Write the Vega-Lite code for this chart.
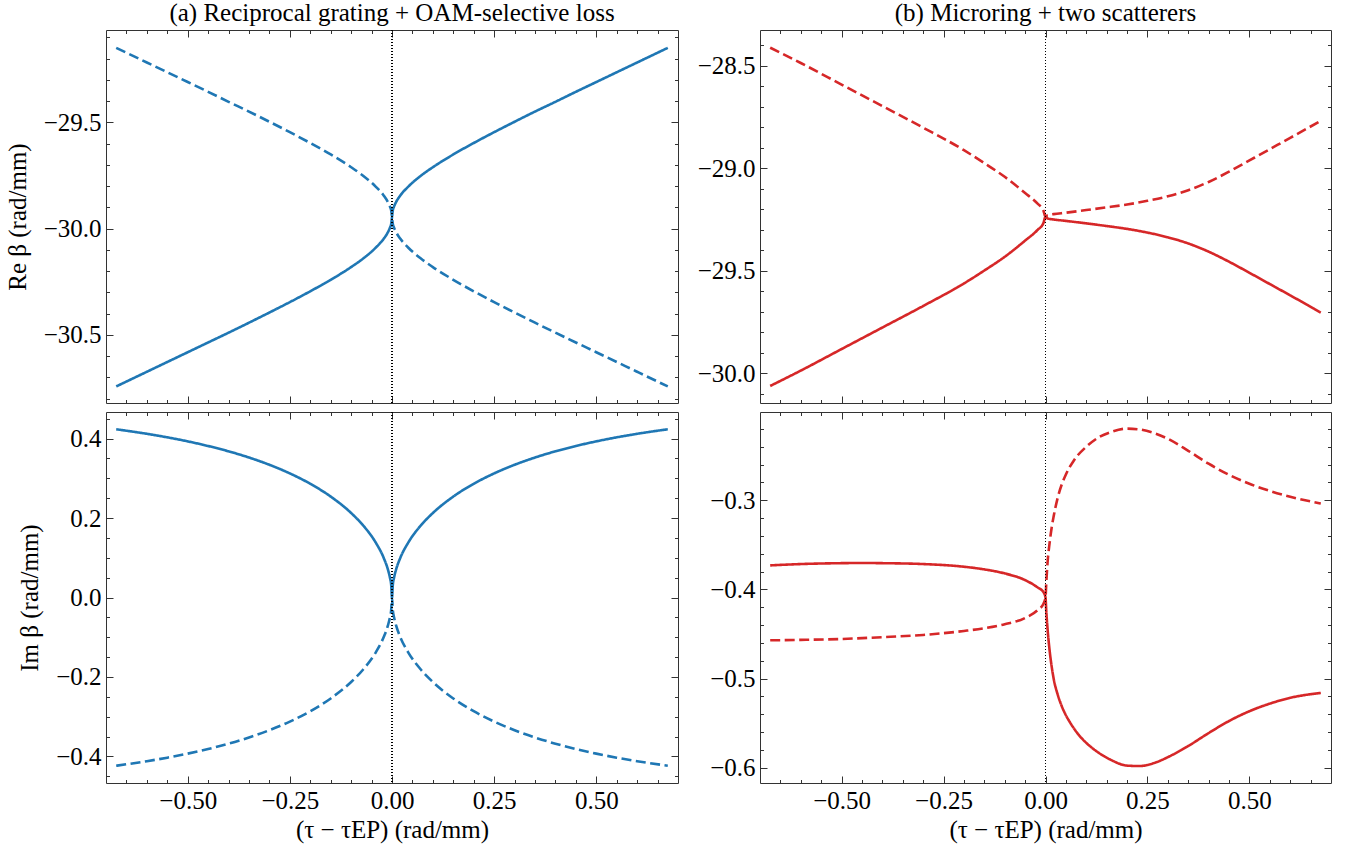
{
"$schema":"https://vega.github.io/schema/vega-lite/v6.json",
"padding":{"left":4,"top":0,"right":5,"bottom":3},
"config":{"font":"Liberation Serif","axis":{"labelFontSize":25,"titleFontSize":25,"labelColor":"#000","titleColor":"#000","titleFontWeight":"normal","labelPadding":5,"titlePadding":13,"tickColor":"#333","grid":false},"title":{"fontSize":25,"fontWeight":"normal","color":"#000","offset":4},"view":{"stroke":"#333","strokeWidth":1}},
"datasets":{
"a":[
{"x":-0.675,"re":-30.743,"im":0.4235,"b":"s"},{"x":-0.6,"re":-30.674,"im":0.4121,"b":"s"},{"x":-0.55,"re":-30.628,"im":0.4032,"b":"s"},{"x":-0.5,"re":-30.582,"im":0.3931,"b":"s"},{"x":-0.45,"re":-30.536,"im":0.3814,"b":"s"},{"x":-0.4,"re":-30.49,"im":0.368,"b":"s"},{"x":-0.35,"re":-30.443,"im":0.3524,"b":"s"},{"x":-0.3,"re":-30.395,"im":0.3341,"b":"s"},{"x":-0.25,"re":-30.346,"im":0.3124,"b":"s"},{"x":-0.2,"re":-30.295,"im":0.2863,"b":"s"},{"x":-0.15,"re":-30.241,"im":0.2541,"b":"s"},{"x":-0.1,"re":-30.181,"im":0.2127,"b":"s"},{"x":-0.07,"re":-30.14,"im":0.1807,"b":"s"},{"x":-0.04,"re":-30.09,"im":0.1386,"b":"s"},{"x":-0.02,"re":-30.047,"im":0.099,"b":"s"},{"x":-0.01,"re":-30.017,"im":0.0704,"b":"s"},{"x":-0.005,"re":-29.996,"im":0.0499,"b":"s"},{"x":-0.002,"re":-29.978,"im":0.0316,"b":"s"},{"x":0,"re":-29.946,"im":0,"b":"s"},
{"x":0.002,"re":-29.914,"im":0.0316,"b":"s"},{"x":0.005,"re":-29.896,"im":0.0499,"b":"s"},{"x":0.01,"re":-29.875,"im":0.0704,"b":"s"},{"x":0.02,"re":-29.845,"im":0.099,"b":"s"},{"x":0.04,"re":-29.802,"im":0.1386,"b":"s"},{"x":0.07,"re":-29.752,"im":0.1807,"b":"s"},{"x":0.1,"re":-29.711,"im":0.2127,"b":"s"},{"x":0.15,"re":-29.651,"im":0.2541,"b":"s"},{"x":0.2,"re":-29.597,"im":0.2863,"b":"s"},{"x":0.25,"re":-29.546,"im":0.3124,"b":"s"},{"x":0.3,"re":-29.497,"im":0.3341,"b":"s"},{"x":0.35,"re":-29.449,"im":0.3524,"b":"s"},{"x":0.4,"re":-29.403,"im":0.368,"b":"s"},{"x":0.45,"re":-29.356,"im":0.3814,"b":"s"},{"x":0.5,"re":-29.31,"im":0.3931,"b":"s"},{"x":0.55,"re":-29.264,"im":0.4032,"b":"s"},{"x":0.6,"re":-29.218,"im":0.4121,"b":"s"},{"x":0.675,"re":-29.149,"im":0.4235,"b":"s"},
{"x":-0.675,"re":-29.149,"im":-0.4235,"b":"d"},{"x":-0.6,"re":-29.218,"im":-0.4121,"b":"d"},{"x":-0.55,"re":-29.264,"im":-0.4032,"b":"d"},{"x":-0.5,"re":-29.31,"im":-0.3931,"b":"d"},{"x":-0.45,"re":-29.356,"im":-0.3814,"b":"d"},{"x":-0.4,"re":-29.403,"im":-0.368,"b":"d"},{"x":-0.35,"re":-29.449,"im":-0.3524,"b":"d"},{"x":-0.3,"re":-29.497,"im":-0.3341,"b":"d"},{"x":-0.25,"re":-29.546,"im":-0.3124,"b":"d"},{"x":-0.2,"re":-29.597,"im":-0.2863,"b":"d"},{"x":-0.15,"re":-29.651,"im":-0.2541,"b":"d"},{"x":-0.1,"re":-29.711,"im":-0.2127,"b":"d"},{"x":-0.07,"re":-29.752,"im":-0.1807,"b":"d"},{"x":-0.04,"re":-29.802,"im":-0.1386,"b":"d"},{"x":-0.02,"re":-29.845,"im":-0.099,"b":"d"},{"x":-0.01,"re":-29.875,"im":-0.0704,"b":"d"},{"x":-0.005,"re":-29.896,"im":-0.0499,"b":"d"},{"x":-0.002,"re":-29.914,"im":-0.0316,"b":"d"},{"x":0,"re":-29.946,"im":0,"b":"d"},
{"x":0.002,"re":-29.978,"im":-0.0316,"b":"d"},{"x":0.005,"re":-29.996,"im":-0.0499,"b":"d"},{"x":0.01,"re":-30.017,"im":-0.0704,"b":"d"},{"x":0.02,"re":-30.047,"im":-0.099,"b":"d"},{"x":0.04,"re":-30.09,"im":-0.1386,"b":"d"},{"x":0.07,"re":-30.14,"im":-0.1807,"b":"d"},{"x":0.1,"re":-30.181,"im":-0.2127,"b":"d"},{"x":0.15,"re":-30.241,"im":-0.2541,"b":"d"},{"x":0.2,"re":-30.295,"im":-0.2863,"b":"d"},{"x":0.25,"re":-30.346,"im":-0.3124,"b":"d"},{"x":0.3,"re":-30.395,"im":-0.3341,"b":"d"},{"x":0.35,"re":-30.443,"im":-0.3524,"b":"d"},{"x":0.4,"re":-30.49,"im":-0.368,"b":"d"},{"x":0.45,"re":-30.536,"im":-0.3814,"b":"d"},{"x":0.5,"re":-30.582,"im":-0.3931,"b":"d"},{"x":0.55,"re":-30.628,"im":-0.4032,"b":"d"},{"x":0.6,"re":-30.674,"im":-0.4121,"b":"d"},{"x":0.675,"re":-30.743,"im":-0.4235,"b":"d"}
],
"bre":[
{"x":-0.675,"y":-30.062,"b":"s"},{"x":-0.6,"y":-29.987,"b":"s"},{"x":-0.5,"y":-29.882,"b":"s"},{"x":-0.4,"y":-29.777,"b":"s"},{"x":-0.3,"y":-29.672,"b":"s"},{"x":-0.2,"y":-29.562,"b":"s"},{"x":-0.15,"y":-29.499,"b":"s"},{"x":-0.1,"y":-29.432,"b":"s"},{"x":-0.05,"y":-29.353,"b":"s"},{"x":-0.02,"y":-29.302,"b":"s"},{"x":-0.005,"y":-29.267,"b":"s"},{"x":0,"y":-29.237,"b":"s"},
{"x":0.005,"y":-29.245,"b":"s"},{"x":0.02,"y":-29.25,"b":"s"},{"x":0.05,"y":-29.257,"b":"s"},{"x":0.1,"y":-29.269,"b":"s"},{"x":0.15,"y":-29.282,"b":"s"},{"x":0.2,"y":-29.296,"b":"s"},{"x":0.25,"y":-29.314,"b":"s"},{"x":0.3,"y":-29.337,"b":"s"},{"x":0.35,"y":-29.367,"b":"s"},{"x":0.4,"y":-29.407,"b":"s"},{"x":0.45,"y":-29.456,"b":"s"},{"x":0.5,"y":-29.51,"b":"s"},{"x":0.55,"y":-29.565,"b":"s"},{"x":0.6,"y":-29.62,"b":"s"},{"x":0.675,"y":-29.704,"b":"s"},
{"x":-0.675,"y":-28.412,"b":"d"},{"x":-0.6,"y":-28.487,"b":"d"},{"x":-0.5,"y":-28.592,"b":"d"},{"x":-0.4,"y":-28.697,"b":"d"},{"x":-0.3,"y":-28.802,"b":"d"},{"x":-0.2,"y":-28.912,"b":"d"},{"x":-0.15,"y":-28.975,"b":"d"},{"x":-0.1,"y":-29.042,"b":"d"},{"x":-0.05,"y":-29.121,"b":"d"},{"x":-0.02,"y":-29.172,"b":"d"},{"x":-0.005,"y":-29.207,"b":"d"},{"x":0,"y":-29.237,"b":"d"},
{"x":0.005,"y":-29.229,"b":"d"},{"x":0.02,"y":-29.224,"b":"d"},{"x":0.05,"y":-29.217,"b":"d"},{"x":0.1,"y":-29.204,"b":"d"},{"x":0.15,"y":-29.191,"b":"d"},{"x":0.2,"y":-29.177,"b":"d"},{"x":0.25,"y":-29.159,"b":"d"},{"x":0.3,"y":-29.137,"b":"d"},{"x":0.35,"y":-29.107,"b":"d"},{"x":0.4,"y":-29.067,"b":"d"},{"x":0.45,"y":-29.017,"b":"d"},{"x":0.5,"y":-28.962,"b":"d"},{"x":0.55,"y":-28.907,"b":"d"},{"x":0.6,"y":-28.852,"b":"d"},{"x":0.675,"y":-28.769,"b":"d"}
],
"bim":[
{"x":-0.675,"y":-0.373,"b":"s"},{"x":-0.6,"y":-0.3715,"b":"s"},{"x":-0.5,"y":-0.3705,"b":"s"},{"x":-0.45,"y":-0.3703,"b":"s"},{"x":-0.4,"y":-0.3705,"b":"s"},{"x":-0.3,"y":-0.3715,"b":"s"},{"x":-0.2,"y":-0.3745,"b":"s"},{"x":-0.15,"y":-0.3775,"b":"s"},{"x":-0.1,"y":-0.382,"b":"s"},{"x":-0.05,"y":-0.3895,"b":"s"},{"x":-0.02,"y":-0.3975,"b":"s"},{"x":-0.005,"y":-0.403,"b":"s"},{"x":0,"y":-0.409,"b":"s"},
{"x":0.002,"y":-0.425,"b":"s"},{"x":0.005,"y":-0.444,"b":"s"},{"x":0.01,"y":-0.468,"b":"s"},{"x":0.015,"y":-0.486,"b":"s"},{"x":0.02,"y":-0.5,"b":"s"},{"x":0.03,"y":-0.518,"b":"s"},{"x":0.04,"y":-0.531,"b":"s"},{"x":0.05,"y":-0.541,"b":"s"},{"x":0.06,"y":-0.549,"b":"s"},{"x":0.07,"y":-0.556,"b":"s"},{"x":0.085,"y":-0.565,"b":"s"},{"x":0.1,"y":-0.572,"b":"s"},{"x":0.13,"y":-0.583,"b":"s"},{"x":0.16,"y":-0.591,"b":"s"},{"x":0.2,"y":-0.5975,"b":"s"},{"x":0.23,"y":-0.598,"b":"s"},{"x":0.27,"y":-0.594,"b":"s"},{"x":0.3,"y":-0.588,"b":"s"},{"x":0.35,"y":-0.5755,"b":"s"},{"x":0.4,"y":-0.561,"b":"s"},{"x":0.45,"y":-0.5475,"b":"s"},{"x":0.5,"y":-0.5365,"b":"s"},{"x":0.55,"y":-0.528,"b":"s"},{"x":0.6,"y":-0.5215,"b":"s"},{"x":0.675,"y":-0.516,"b":"s"},
{"x":-0.675,"y":-0.457,"b":"d"},{"x":-0.6,"y":-0.4565,"b":"d"},{"x":-0.5,"y":-0.4555,"b":"d"},{"x":-0.4,"y":-0.4535,"b":"d"},{"x":-0.3,"y":-0.451,"b":"d"},{"x":-0.2,"y":-0.4465,"b":"d"},{"x":-0.15,"y":-0.4435,"b":"d"},{"x":-0.1,"y":-0.439,"b":"d"},{"x":-0.05,"y":-0.432,"b":"d"},{"x":-0.02,"y":-0.4235,"b":"d"},{"x":-0.005,"y":-0.416,"b":"d"},{"x":0,"y":-0.409,"b":"d"},
{"x":0.002,"y":-0.392,"b":"d"},{"x":0.005,"y":-0.37,"b":"d"},{"x":0.01,"y":-0.348,"b":"d"},{"x":0.015,"y":-0.331,"b":"d"},{"x":0.02,"y":-0.318,"b":"d"},{"x":0.03,"y":-0.297,"b":"d"},{"x":0.04,"y":-0.282,"b":"d"},{"x":0.05,"y":-0.271,"b":"d"},{"x":0.07,"y":-0.255,"b":"d"},{"x":0.1,"y":-0.24,"b":"d"},{"x":0.13,"y":-0.2295,"b":"d"},{"x":0.16,"y":-0.2235,"b":"d"},{"x":0.2,"y":-0.2196,"b":"d"},{"x":0.23,"y":-0.2205,"b":"d"},{"x":0.27,"y":-0.2252,"b":"d"},{"x":0.3,"y":-0.231,"b":"d"},{"x":0.35,"y":-0.2445,"b":"d"},{"x":0.4,"y":-0.259,"b":"d"},{"x":0.45,"y":-0.2715,"b":"d"},{"x":0.5,"y":-0.2815,"b":"d"},{"x":0.55,"y":-0.2895,"b":"d"},{"x":0.6,"y":-0.296,"b":"d"},{"x":0.675,"y":-0.3037,"b":"d"}
]
},
"columns":2,
"spacing":{"row":9,"column":82},
"bounds":"flush",
"concat":[
{
"width":572,"height":373,
"title":{"text":"(a) Reciprocal grating + OAM-selective loss"},
"data":{"name":"a"},
"layer":[
{"mark":{"type":"line","color":"#1f77b4","strokeWidth":2.6,"interpolate":"monotone"},
 "encoding":{
  "x":{"field":"x","type":"quantitative","scale":{"domain":[-0.7,0.7],"nice":false,"zero":false},"axis":null},
  "y":{"field":"re","type":"quantitative","scale":{"domain":[-30.821,-29.065],"nice":false,"zero":false},"axis":{"orient":"left","values":[-30.5,-30,-29.5],"format":".1f","ticks":false,"domain":false,"title":"Re β (rad/mm)"}},
  "strokeDash":{"field":"b","type":"nominal","scale":{"domain":["s","d"],"range":[[1,0],[10,4.5]]},"legend":null}}},
{"mark":{"type":"line","strokeOpacity":0},
 "encoding":{
  "x":{"field":"x","type":"quantitative","axis":{"orient":"bottom","values":[-0.5,-0.25,0,0.25,0.5],"labels":false,"domain":false,"title":null,"tickSize":-7,"tickWidth":1}},
  "y":{"field":"re","type":"quantitative","axis":{"orient":"left","values":[-30.5,-30,-29.5],"labels":false,"domain":false,"title":null,"tickSize":-7,"tickWidth":1}}}},
{"mark":{"type":"line","strokeOpacity":0},
 "encoding":{
  "x":{"field":"x","type":"quantitative","axis":{"orient":"bottom","values":[-0.65,-0.6,-0.55,-0.45,-0.4,-0.35,-0.3,-0.2,-0.15,-0.1,-0.05,0.05,0.1,0.15,0.2,0.3,0.35,0.4,0.45,0.55,0.6,0.65],"labels":false,"domain":false,"title":null,"tickSize":-3.5,"tickWidth":1}},
  "y":{"field":"re","type":"quantitative","axis":{"orient":"left","values":[-30.8,-30.7,-30.6,-30.4,-30.3,-30.2,-30.1,-29.9,-29.8,-29.7,-29.6,-29.4,-29.3,-29.2,-29.1],"labels":false,"domain":false,"title":null,"tickSize":-3.5,"tickWidth":1}}}},
{"mark":{"type":"line","strokeOpacity":0},
 "encoding":{
  "x":{"field":"x","type":"quantitative","axis":{"orient":"top","values":[-0.5,-0.25,0,0.25,0.5],"labels":false,"domain":false,"title":null,"tickSize":-7,"tickWidth":1}},
  "y":{"field":"re","type":"quantitative","axis":{"orient":"right","values":[-30.5,-30,-29.5],"labels":false,"domain":false,"title":null,"tickSize":-7,"tickWidth":1}}}},
{"mark":{"type":"line","strokeOpacity":0},
 "encoding":{
  "x":{"field":"x","type":"quantitative","axis":{"orient":"top","values":[-0.65,-0.6,-0.55,-0.45,-0.4,-0.35,-0.3,-0.2,-0.15,-0.1,-0.05,0.05,0.1,0.15,0.2,0.3,0.35,0.4,0.45,0.55,0.6,0.65],"labels":false,"domain":false,"title":null,"tickSize":-3.5,"tickWidth":1}},
  "y":{"field":"re","type":"quantitative","axis":{"orient":"right","values":[-30.8,-30.7,-30.6,-30.4,-30.3,-30.2,-30.1,-29.9,-29.8,-29.7,-29.6,-29.4,-29.3,-29.2,-29.1],"labels":false,"domain":false,"title":null,"tickSize":-3.5,"tickWidth":1}}}},
{"mark":{"type":"rule","color":"#000","strokeWidth":1,"strokeDash":[1,2]},
 "encoding":{"x":{"datum":0,"type":"quantitative","axis":null}}}
],
"resolve":{"axis":{"x":"independent","y":"independent"}}
},
{
"width":571,"height":373,
"title":{"text":"(b) Microring + two scatterers"},
"data":{"name":"bre"},
"layer":[
{"mark":{"type":"line","color":"#d62728","strokeWidth":2.6,"interpolate":"monotone"},
 "encoding":{
  "x":{"field":"x","type":"quantitative","scale":{"domain":[-0.7,0.7],"nice":false,"zero":false},"axis":null},
  "y":{"field":"y","type":"quantitative","scale":{"domain":[-30.145,-28.326],"nice":false,"zero":false},"axis":{"orient":"left","values":[-30,-29.5,-29,-28.5],"format":".1f","ticks":false,"domain":false,"title":null}},
  "strokeDash":{"field":"b","type":"nominal","scale":{"domain":["s","d"],"range":[[1,0],[10,4.5]]},"legend":null}}},
{"mark":{"type":"line","strokeOpacity":0},
 "encoding":{
  "x":{"field":"x","type":"quantitative","axis":{"orient":"bottom","values":[-0.5,-0.25,0,0.25,0.5],"labels":false,"domain":false,"title":null,"tickSize":-7,"tickWidth":1}},
  "y":{"field":"y","type":"quantitative","axis":{"orient":"left","values":[-30,-29.5,-29,-28.5],"labels":false,"domain":false,"title":null,"tickSize":-7,"tickWidth":1}}}},
{"mark":{"type":"line","strokeOpacity":0},
 "encoding":{
  "x":{"field":"x","type":"quantitative","axis":{"orient":"bottom","values":[-0.65,-0.6,-0.55,-0.45,-0.4,-0.35,-0.3,-0.2,-0.15,-0.1,-0.05,0.05,0.1,0.15,0.2,0.3,0.35,0.4,0.45,0.55,0.6,0.65],"labels":false,"domain":false,"title":null,"tickSize":-3.5,"tickWidth":1}},
  "y":{"field":"y","type":"quantitative","axis":{"orient":"left","values":[-30.1,-29.9,-29.8,-29.7,-29.6,-29.4,-29.3,-29.2,-29.1,-28.9,-28.8,-28.7,-28.6,-28.4],"labels":false,"domain":false,"title":null,"tickSize":-3.5,"tickWidth":1}}}},
{"mark":{"type":"line","strokeOpacity":0},
 "encoding":{
  "x":{"field":"x","type":"quantitative","axis":{"orient":"top","values":[-0.5,-0.25,0,0.25,0.5],"labels":false,"domain":false,"title":null,"tickSize":-7,"tickWidth":1}},
  "y":{"field":"y","type":"quantitative","axis":{"orient":"right","values":[-30,-29.5,-29,-28.5],"labels":false,"domain":false,"title":null,"tickSize":-7,"tickWidth":1}}}},
{"mark":{"type":"line","strokeOpacity":0},
 "encoding":{
  "x":{"field":"x","type":"quantitative","axis":{"orient":"top","values":[-0.65,-0.6,-0.55,-0.45,-0.4,-0.35,-0.3,-0.2,-0.15,-0.1,-0.05,0.05,0.1,0.15,0.2,0.3,0.35,0.4,0.45,0.55,0.6,0.65],"labels":false,"domain":false,"title":null,"tickSize":-3.5,"tickWidth":1}},
  "y":{"field":"y","type":"quantitative","axis":{"orient":"right","values":[-30.1,-29.9,-29.8,-29.7,-29.6,-29.4,-29.3,-29.2,-29.1,-28.9,-28.8,-28.7,-28.6,-28.4],"labels":false,"domain":false,"title":null,"tickSize":-3.5,"tickWidth":1}}}},
{"mark":{"type":"rule","color":"#000","strokeWidth":1,"strokeDash":[1,2]},
 "encoding":{"x":{"datum":0,"type":"quantitative","axis":null}}}
],
"resolve":{"axis":{"x":"independent","y":"independent"}}
},
{
"width":572,"height":371,
"data":{"name":"a"},
"layer":[
{"mark":{"type":"line","color":"#1f77b4","strokeWidth":2.6,"interpolate":"monotone"},
 "encoding":{
  "x":{"field":"x","type":"quantitative","scale":{"domain":[-0.7,0.7],"nice":false,"zero":false},"axis":{"orient":"bottom","values":[-0.5,-0.25,0,0.25,0.5],"format":".2f","ticks":false,"domain":false,"title":"(τ − τEP) (rad/mm)","titlePadding":4}},
  "y":{"field":"im","type":"quantitative","scale":{"domain":[-0.467,0.467],"nice":false,"zero":false},"axis":{"orient":"left","values":[-0.4,-0.2,0,0.2,0.4],"format":".1f","ticks":false,"domain":false,"title":"Im β (rad/mm)"}},
  "strokeDash":{"field":"b","type":"nominal","scale":{"domain":["s","d"],"range":[[1,0],[10,4.5]]},"legend":null}}},
{"mark":{"type":"line","strokeOpacity":0},
 "encoding":{
  "x":{"field":"x","type":"quantitative","axis":{"orient":"bottom","values":[-0.5,-0.25,0,0.25,0.5],"labels":false,"domain":false,"title":null,"tickSize":-7,"tickWidth":1}},
  "y":{"field":"im","type":"quantitative","axis":{"orient":"left","values":[-0.4,-0.2,0,0.2,0.4],"labels":false,"domain":false,"title":null,"tickSize":-7,"tickWidth":1}}}},
{"mark":{"type":"line","strokeOpacity":0},
 "encoding":{
  "x":{"field":"x","type":"quantitative","axis":{"orient":"bottom","values":[-0.65,-0.6,-0.55,-0.45,-0.4,-0.35,-0.3,-0.2,-0.15,-0.1,-0.05,0.05,0.1,0.15,0.2,0.3,0.35,0.4,0.45,0.55,0.6,0.65],"labels":false,"domain":false,"title":null,"tickSize":-3.5,"tickWidth":1}},
  "y":{"field":"im","type":"quantitative","axis":{"orient":"left","values":[-0.45,-0.35,-0.3,-0.25,-0.15,-0.1,-0.05,0.05,0.1,0.15,0.25,0.3,0.35,0.45],"labels":false,"domain":false,"title":null,"tickSize":-3.5,"tickWidth":1}}}},
{"mark":{"type":"line","strokeOpacity":0},
 "encoding":{
  "x":{"field":"x","type":"quantitative","axis":{"orient":"top","values":[-0.5,-0.25,0,0.25,0.5],"labels":false,"domain":false,"title":null,"tickSize":-7,"tickWidth":1}},
  "y":{"field":"im","type":"quantitative","axis":{"orient":"right","values":[-0.4,-0.2,0,0.2,0.4],"labels":false,"domain":false,"title":null,"tickSize":-7,"tickWidth":1}}}},
{"mark":{"type":"line","strokeOpacity":0},
 "encoding":{
  "x":{"field":"x","type":"quantitative","axis":{"orient":"top","values":[-0.65,-0.6,-0.55,-0.45,-0.4,-0.35,-0.3,-0.2,-0.15,-0.1,-0.05,0.05,0.1,0.15,0.2,0.3,0.35,0.4,0.45,0.55,0.6,0.65],"labels":false,"domain":false,"title":null,"tickSize":-3.5,"tickWidth":1}},
  "y":{"field":"im","type":"quantitative","axis":{"orient":"right","values":[-0.45,-0.35,-0.3,-0.25,-0.15,-0.1,-0.05,0.05,0.1,0.15,0.25,0.3,0.35,0.45],"labels":false,"domain":false,"title":null,"tickSize":-3.5,"tickWidth":1}}}},
{"mark":{"type":"rule","color":"#000","strokeWidth":1,"strokeDash":[1,2]},
 "encoding":{"x":{"datum":0,"type":"quantitative","axis":null}}}
],
"resolve":{"axis":{"x":"independent","y":"independent"}}
},
{
"width":571,"height":371,
"data":{"name":"bim"},
"layer":[
{"mark":{"type":"line","color":"#d62728","strokeWidth":2.6,"interpolate":"monotone"},
 "encoding":{
  "x":{"field":"x","type":"quantitative","scale":{"domain":[-0.7,0.7],"nice":false,"zero":false},"axis":{"orient":"bottom","values":[-0.5,-0.25,0,0.25,0.5],"format":".2f","ticks":false,"domain":false,"title":"(τ − τEP) (rad/mm)","titlePadding":4}},
  "y":{"field":"y","type":"quantitative","scale":{"domain":[-0.617,-0.201],"nice":false,"zero":false},"axis":{"orient":"left","values":[-0.6,-0.5,-0.4,-0.3],"format":".1f","ticks":false,"domain":false,"title":null}},
  "strokeDash":{"field":"b","type":"nominal","scale":{"domain":["s","d"],"range":[[1,0],[10,4.5]]},"legend":null}}},
{"mark":{"type":"line","strokeOpacity":0},
 "encoding":{
  "x":{"field":"x","type":"quantitative","axis":{"orient":"bottom","values":[-0.5,-0.25,0,0.25,0.5],"labels":false,"domain":false,"title":null,"tickSize":-7,"tickWidth":1}},
  "y":{"field":"y","type":"quantitative","axis":{"orient":"left","values":[-0.6,-0.5,-0.4,-0.3],"labels":false,"domain":false,"title":null,"tickSize":-7,"tickWidth":1}}}},
{"mark":{"type":"line","strokeOpacity":0},
 "encoding":{
  "x":{"field":"x","type":"quantitative","axis":{"orient":"bottom","values":[-0.65,-0.6,-0.55,-0.45,-0.4,-0.35,-0.3,-0.2,-0.15,-0.1,-0.05,0.05,0.1,0.15,0.2,0.3,0.35,0.4,0.45,0.55,0.6,0.65],"labels":false,"domain":false,"title":null,"tickSize":-3.5,"tickWidth":1}},
  "y":{"field":"y","type":"quantitative","axis":{"orient":"left","values":[-0.58,-0.56,-0.54,-0.52,-0.48,-0.46,-0.44,-0.42,-0.38,-0.36,-0.34,-0.32,-0.28,-0.26,-0.24,-0.22],"labels":false,"domain":false,"title":null,"tickSize":-3.5,"tickWidth":1}}}},
{"mark":{"type":"line","strokeOpacity":0},
 "encoding":{
  "x":{"field":"x","type":"quantitative","axis":{"orient":"top","values":[-0.5,-0.25,0,0.25,0.5],"labels":false,"domain":false,"title":null,"tickSize":-7,"tickWidth":1}},
  "y":{"field":"y","type":"quantitative","axis":{"orient":"right","values":[-0.6,-0.5,-0.4,-0.3],"labels":false,"domain":false,"title":null,"tickSize":-7,"tickWidth":1}}}},
{"mark":{"type":"line","strokeOpacity":0},
 "encoding":{
  "x":{"field":"x","type":"quantitative","axis":{"orient":"top","values":[-0.65,-0.6,-0.55,-0.45,-0.4,-0.35,-0.3,-0.2,-0.15,-0.1,-0.05,0.05,0.1,0.15,0.2,0.3,0.35,0.4,0.45,0.55,0.6,0.65],"labels":false,"domain":false,"title":null,"tickSize":-3.5,"tickWidth":1}},
  "y":{"field":"y","type":"quantitative","axis":{"orient":"right","values":[-0.58,-0.56,-0.54,-0.52,-0.48,-0.46,-0.44,-0.42,-0.38,-0.36,-0.34,-0.32,-0.28,-0.26,-0.24,-0.22],"labels":false,"domain":false,"title":null,"tickSize":-3.5,"tickWidth":1}}}},
{"mark":{"type":"rule","color":"#000","strokeWidth":1,"strokeDash":[1,2]},
 "encoding":{"x":{"datum":0,"type":"quantitative","axis":null}}}
],
"resolve":{"axis":{"x":"independent","y":"independent"}}
}
]
}
